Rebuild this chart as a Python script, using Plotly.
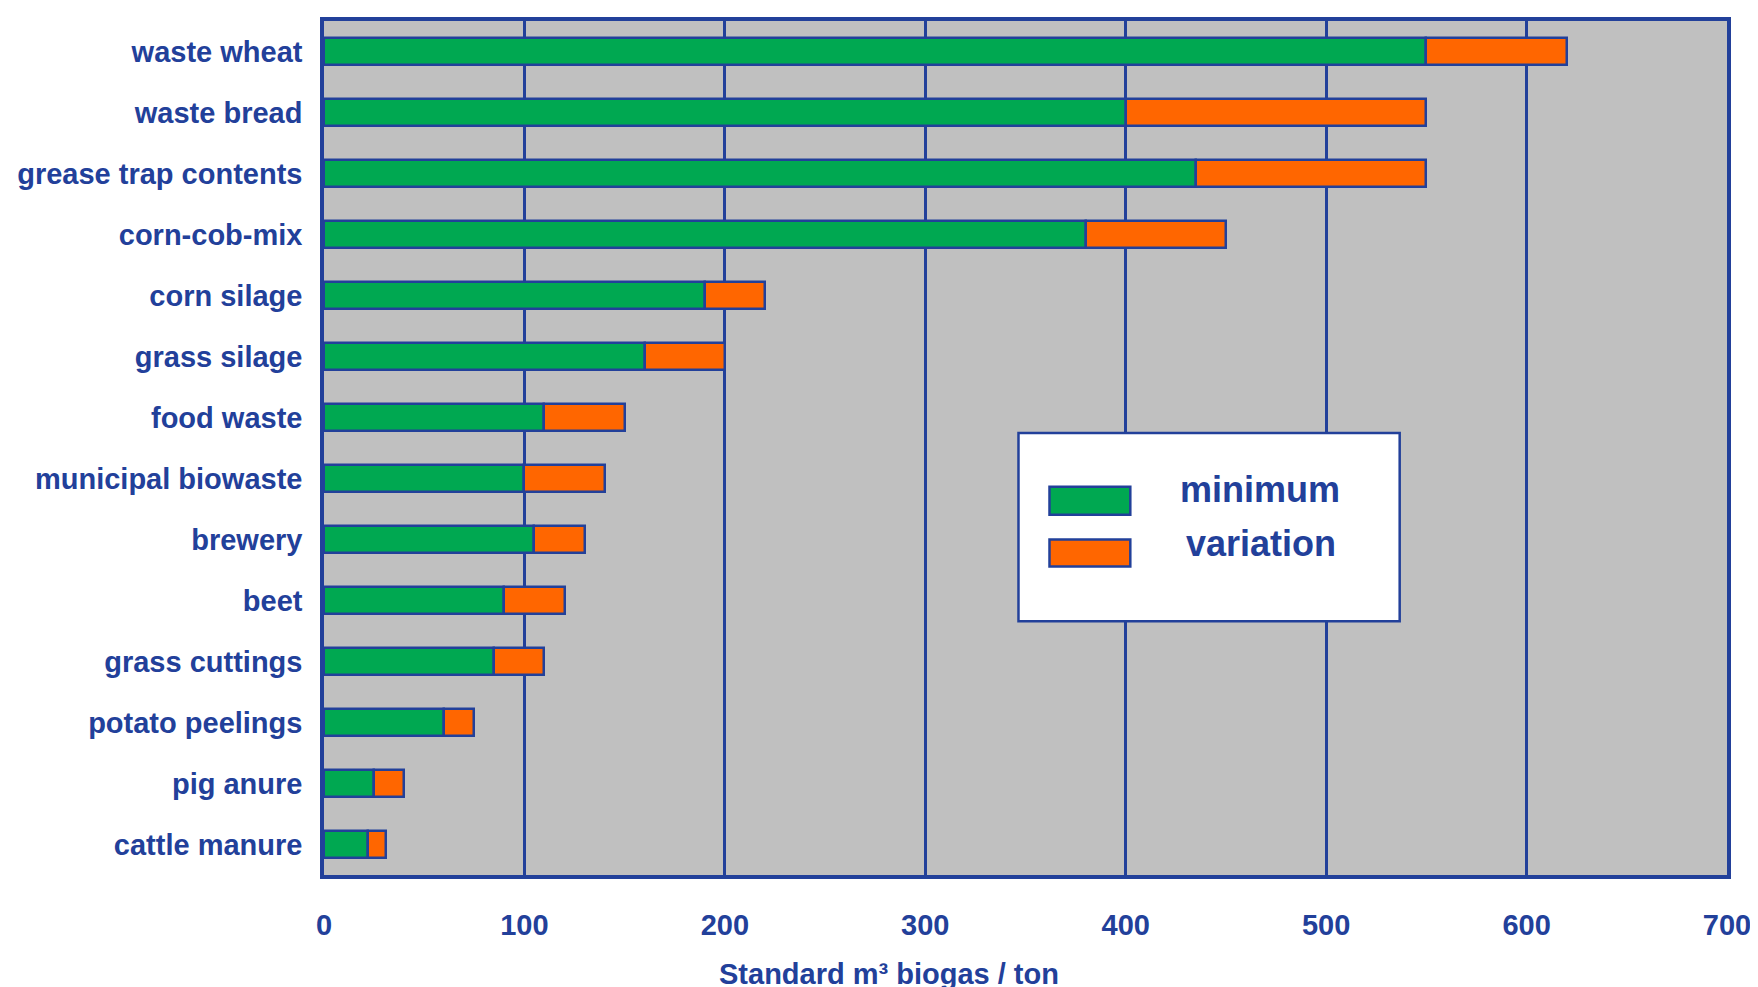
import plotly.graph_objects as go

categories = ["waste wheat", "waste bread", "grease trap contents", "corn-cob-mix",
              "corn silage", "grass silage", "food waste", "municipal biowaste",
              "brewery", "beet", "grass cuttings", "potato peelings", "pig anure",
              "cattle manure"]
minimum = [550, 400, 435, 380, 190, 160, 110, 100, 105, 90, 85, 60, 25, 22]
maximum = [620, 550, 550, 450, 220, 200, 150, 140, 130, 120, 110, 75, 40, 31]
variation = [mx - mn for mx, mn in zip(maximum, minimum)]
x_ticks = [0, 100, 200, 300, 400, 500, 600, 700]
legend_labels = ["minimum", "variation"]

BLUE = "#22409A"
GREEN = "#00A851"
ORANGE = "#FF6600"
FONT = "Liberation Sans, Arial, sans-serif"

fig = go.Figure()
fig.add_trace(go.Bar(y=categories, x=minimum, orientation="h", name=legend_labels[0],
                     marker=dict(color=GREEN, line=dict(color=BLUE, width=2.5)),
                     width=0.45))
fig.add_trace(go.Bar(y=categories, x=variation, base=minimum, orientation="h",
                     name=legend_labels[1],
                     marker=dict(color=ORANGE, line=dict(color=BLUE, width=2.5)),
                     width=0.45))

fig.update_layout(
    width=1758, height=987,
    margin=dict(l=313, r=39, t=9, b=120),
    paper_bgcolor="white", plot_bgcolor="#C0C0C0",
    font=dict(family=FONT, color=BLUE, size=29, weight="bold"),
    showlegend=False, barmode="overlay", bargap=0,
    xaxis=dict(range=[0, 700], tickvals=x_ticks, showgrid=True, gridcolor=BLUE,
               gridwidth=2.5, showline=True, linecolor=BLUE, linewidth=3.5, mirror=True,
               zeroline=False, ticks="outside", ticklen=21,
               tickcolor="rgba(0,0,0,0)", tickfont=dict(size=29)),
    yaxis=dict(categoryorder="array", categoryarray=categories, autorange="reversed",
               showgrid=False, showline=True, linecolor=BLUE, linewidth=3.5, mirror=True,
               ticks="outside", ticklen=12, tickcolor="rgba(0,0,0,0)",
               tickfont=dict(size=29)),
)

# x-axis title
fig.add_annotation(text="Standard m³ biogas / ton", xref="paper", yref="paper",
                   x=0.403, y=-0.1154, showarrow=False, font=dict(size=29),
                   xanchor="center", yanchor="middle")

# custom legend
fig.add_shape(type="rect", xref="paper", yref="paper", x0=0.495, x1=0.7667,
              y0=0.2972, y1=0.5175, fillcolor="white", line=dict(color=BLUE, width=2.5))
fig.add_shape(type="rect", xref="paper", yref="paper", x0=0.5171, x1=0.5747,
              y0=0.4219, y1=0.4545, fillcolor=GREEN, line=dict(color=BLUE, width=2.5))
fig.add_shape(type="rect", xref="paper", yref="paper", x0=0.5171, x1=0.5747,
              y0=0.3613, y1=0.3928, fillcolor=ORANGE, line=dict(color=BLUE, width=2.5))
fig.add_annotation(text=legend_labels[0], xref="paper", yref="paper", x=0.667, y=0.451,
                   showarrow=False, font=dict(size=36), xanchor="center", yanchor="middle")
fig.add_annotation(text=legend_labels[1], xref="paper", yref="paper", x=0.668, y=0.388,
                   showarrow=False, font=dict(size=36), xanchor="center", yanchor="middle")

fig.write_html("out.html")
